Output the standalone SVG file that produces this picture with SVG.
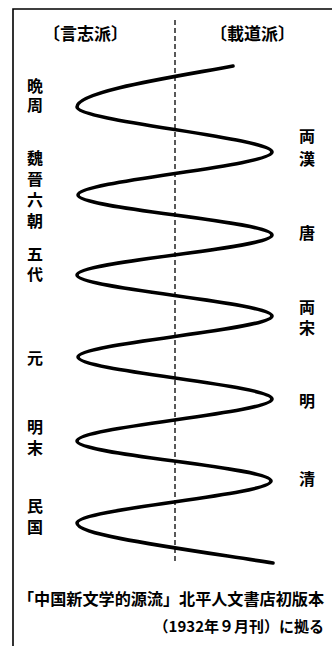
<svg xmlns="http://www.w3.org/2000/svg" width="332" height="646" viewBox="0 0 332 646">
  <style>
    .t { font-family: "Noto Sans CJK JP", "Noto Sans CJK SC", sans-serif; font-weight: bold; font-size: 16px; fill: #000; text-anchor: middle; dominant-baseline: central; }
    .v { font-family: "Noto Sans CJK JP", "Noto Sans CJK SC", sans-serif; font-weight: bold; font-size: 16px; fill: #000; writing-mode: vertical-rl; text-anchor: start; }
    .h { font-size: 17px; }
    .note { font-size: 16px; text-anchor: start; }
    .noteR { font-size: 15px; text-anchor: end; }
    .frame { fill: none; stroke: #000; stroke-width: 1.6; }
    .wave { fill: none; stroke: #000; stroke-width: 3.6; stroke-linecap: round; stroke-linejoin: round; }
    .axis { fill: none; stroke: #000; stroke-width: 1.3; stroke-dasharray: 5 3; }
  </style>
  <rect width="332" height="646" fill="#fff"/>
  <g id="frame">
    <path class="frame" d="M13,646 V9 H332"/>
  </g>
  <g id="connectors">
    <line class="axis" x1="175" y1="20" x2="175" y2="563"/>
    <path class="wave" d="M233,66 C180,76 77,91 77,107
      C77,121 272,138 272,152
      C272,166 78,181 78,195
      C78,209 272,221 272,235
      C272,249 77,261 77,275
      C77,289 272,302 272,316
      C272,330 78,343 78,357
      C78,371 272,385 272,399
      C272,413 77,427 77,441
      C77,455 271,467 271,481
      C271,495 77,509 77,523
      C77,535 170,547 273,563"/>
  </g>
  <g id="header-left"><text class="t h" x="85.5" y="32">〔言志派〕</text></g>
  <g id="header-right"><text class="t h" x="252.5" y="32">〔載道派〕</text></g>
  <g id="left-labels">
    <g id="wanzhou"><text class="v" x="35" y="78" style="letter-spacing:3px">晩周</text></g>
    <g id="weijin"><text class="v" x="35" y="150" style="letter-spacing:5px">魏晉六朝</text></g>
    <g id="wudai"><text class="v" x="35" y="246" style="letter-spacing:4px">五代</text></g>
    <g id="yuan"><text class="v" x="35" y="350">元</text></g>
    <g id="mingmo"><text class="v" x="35" y="419" style="letter-spacing:5px">明末</text></g>
    <g id="minguo"><text class="v" x="35" y="498" style="letter-spacing:5px">民国</text></g>
  </g>
  <g id="right-labels">
    <g id="lianghan"><text class="v" x="307" y="128" style="letter-spacing:7px">両漢</text></g>
    <g id="tang"><text class="v" x="307" y="225">唐</text></g>
    <g id="liangsong"><text class="v" x="307" y="299" style="letter-spacing:5px">両宋</text></g>
    <g id="ming"><text class="v" x="307" y="393">明</text></g>
    <g id="qing"><text class="v" x="307" y="471">清</text></g>
  </g>
  <g id="source">
    <text class="t note" x="18" y="598" textLength="306" lengthAdjust="spacingAndGlyphs">「中国新文学的源流」北平人文書店初版本</text>
    <text class="t noteR" x="324" y="625">（1932年９月刊）に拠る</text>
  </g>
</svg>
